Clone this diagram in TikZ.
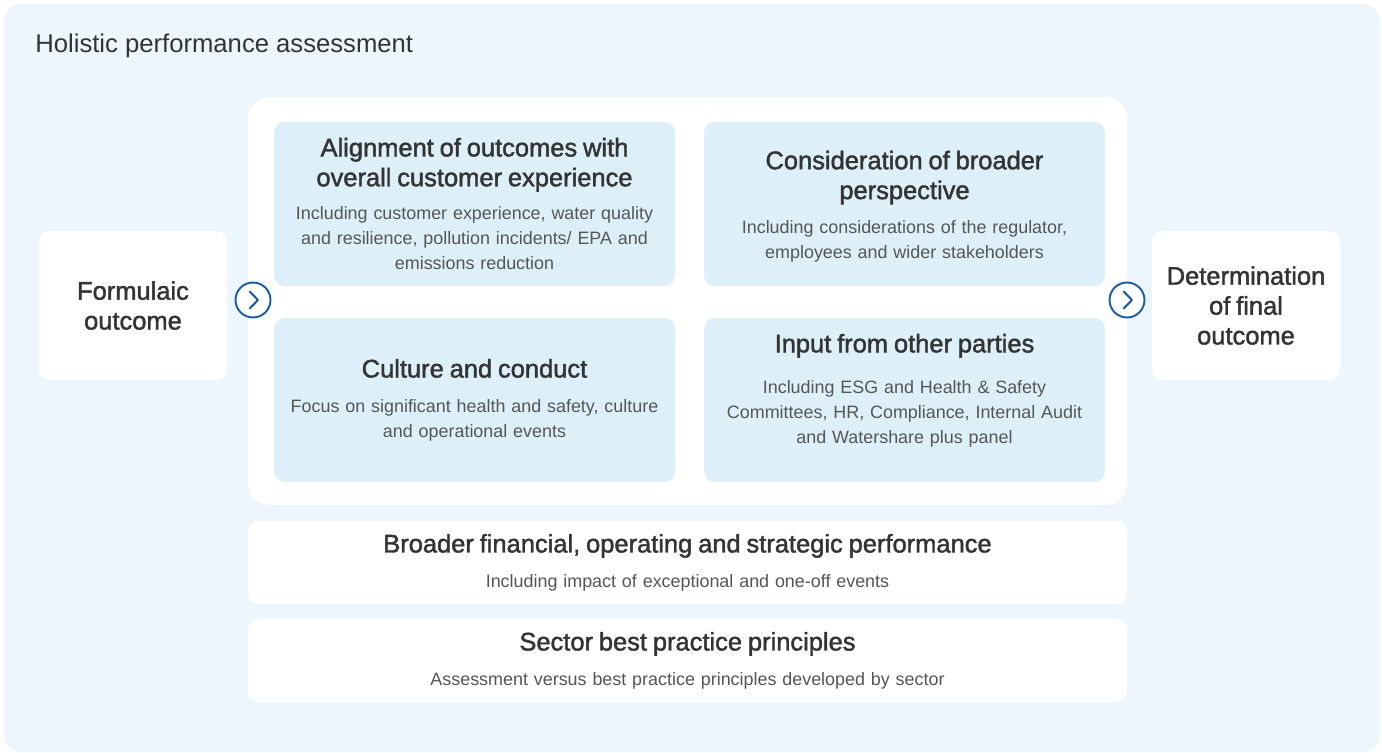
\documentclass[tikz,border=0pt]{standalone}
\usepackage{fontspec}
\setmainfont{Liberation Sans}
\newfontfamily\headfam[FakeBold=1.6]{Liberation Sans}
\usetikzlibrary{positioning}
\definecolor{Fondo}{HTML}{EEF6FD}
\definecolor{Celeste}{HTML}{DDF0F9}
\definecolor{Marino}{HTML}{1A5DA6}
\definecolor{Texto}{HTML}{333333}
\definecolor{TextoSuave}{HTML}{555555}
\newcommand{\headfont}{\headfam\fontsize{14.5}{17}\selectfont}
\newcommand{\bodyfont}{\fontsize{10.2}{14.2}\selectfont}

\begin{document}
\begin{tikzpicture}[
  x=0.02cm, y=-0.02cm,
  every node/.style={text=Texto},
  panel/.style={fill=white,rounded corners=12pt,inner sep=0pt},
  areabox/.style={fill=Celeste,rounded corners=6pt,minimum width=8.02cm,
    minimum height=3.28cm,text width=7.7cm,align=center,inner sep=0pt},
  sidebox/.style={fill=white,rounded corners=6pt,minimum width=3.76cm,
    minimum height=2.98cm,text width=3.5cm,align=center,inner sep=0pt},
  barbox/.style={fill=white,rounded corners=6pt,minimum width=17.58cm,
    minimum height=1.66cm,text width=17cm,align=center,inner sep=0pt},
  nextmark/.style={circle,draw=Marino,line width=1.1pt,fill=white,
    minimum size=0.7cm,inner sep=0pt}
]
  \useasboundingbox (0,0) rectangle (1382,753);
  \fill[Fondo,rounded corners=10pt] (4,4) rectangle (1380,752);
  \node[anchor=west,inner sep=0pt,font=\fontsize{14.6}{17}\selectfont] (title) at (35,46)
    {Holistic performance assessment};

  \node[panel,minimum width=17.58cm,minimum height=8.16cm] (inner) at (687.5,301) {};

  \node[areabox] (align) at (474.5,204)
    {{\headfont Alignment of outcomes with\\overall customer experience\par}\vspace{5pt}
     {\bodyfont\color{TextoSuave}Including customer experience, water quality\\
      and resilience, pollution incidents/ EPA and\\emissions reduction\par}};
  \node[areabox] (broad) at (904.5,204)
    {\hrule height 0pt\vspace{3pt}
     {\headfont Consideration of broader\\perspective\par}\vspace{5.6pt}
     {\bodyfont\color{TextoSuave}Including considerations of the regulator,\\
      employees and wider stakeholders\par}};
  \node[areabox] (culture) at (474.5,400)
    {{\headfont Culture and conduct\par}\vspace{5.6pt}
     {\bodyfont\color{TextoSuave}Focus on significant health and safety, culture\\
      and operational events\par}};
  \node[areabox] (parties) at (904.5,400)
    {{\headfont Input from other parties\par}\vspace{9pt}
     {\bodyfont\color{TextoSuave}Including ESG and Health \& Safety\\
      Committees, HR, Compliance, Internal Audit\\and Watershare plus panel\par}\vspace{11pt}\hrule height 0pt};

  \node[sidebox] (formula) at (133,305.5)
    {{\headfont Formulaic\\outcome\par}};
  \node[sidebox] (final) at (1246,305.5)
    {{\headfont Determination\\of final\\outcome\par}};

  \node[barbox] (financial) at (687.5,562.5)
    {{\headfont Broader financial, operating and strategic performance\par}\vspace{5.6pt}
     {\bodyfont\color{TextoSuave}Including impact of exceptional and one-off events\par}};
  \node[barbox] (sector) at (687.5,660.5)
    {{\headfont Sector best practice principles\par}\vspace{5.6pt}
     {\bodyfont\color{TextoSuave}Assessment versus best practice principles developed by sector\par}};

  % chevron markers
  \foreach \m/\cx in {inmark/253,outmark/1127}{
    \node[nextmark] (\m) at (\cx,300) {};
    \draw[Marino,line width=1.2pt,line cap=round,line join=round]
      ([xshift=-1.8pt,yshift=4.8pt]\m.center) -- ([xshift=2.8pt]\m.center)
      -- ([xshift=-1.8pt,yshift=-4.8pt]\m.center);
  }
\end{tikzpicture}
\end{document}
